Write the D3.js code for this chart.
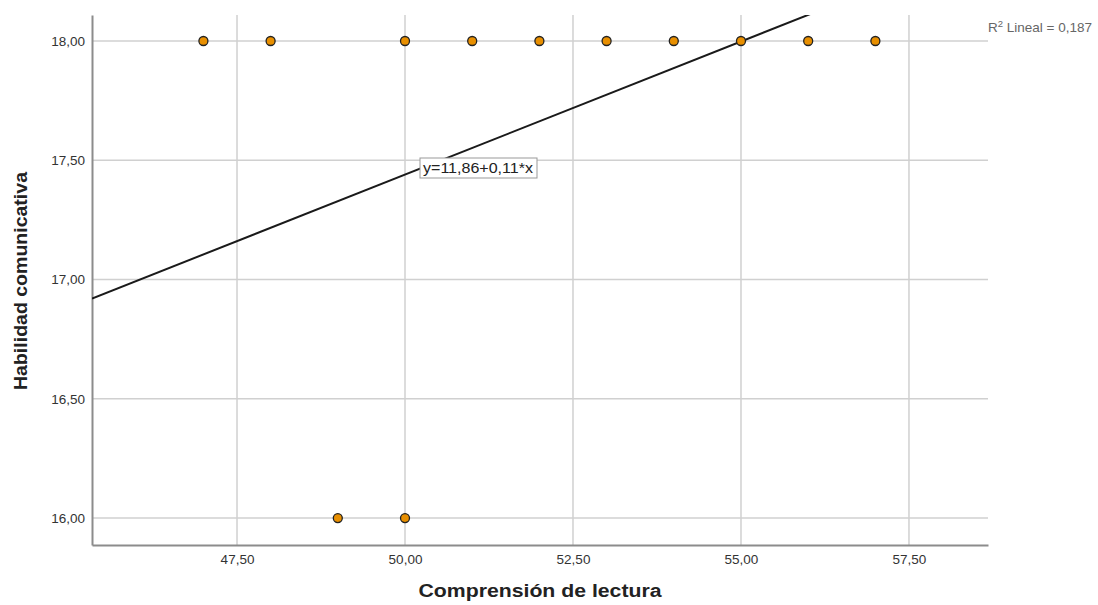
<!DOCTYPE html>
<html><head><meta charset="utf-8">
<script src="https://cdn.jsdelivr.net/npm/d3@7"></script>
<style>body{margin:0;background:#fff;font-family:Arial,"Liberation Sans",sans-serif}</style>
</head><body><svg id="c" width="1098" height="605"></svg>
<script>
const xVals = [47,48,50,51,52,53,54,55,56,57,49,50];
const yVals = [18,18,18,18,18,18,18,18,18,18,16,16];
const xTicks = [47.5,50,52.5,55,57.5];
const yTicks = [16,16.5,17,17.5,18];
const fitIntercept = 11.86, fitSlope = 0.1116;
const eqLabel = "y=11,86+0,11*x";
const r2Label = "0,187";
const xTitle = "Comprensión de lectura", yTitle = "Habilidad comunicativa";

const svg = d3.select("#c");
const L=92,R=988,T=15,B=545;
const x = d3.scaleLinear().domain([45.342,58.676]).range([L,R]);
const y = d3.scaleLinear().domain([15.887,18.109]).range([B,T]);
const fmt = d=>d3.format(".2f")(d).replace(".",",");
const FF = "Arial,'Liberation Sans',sans-serif";

const g = svg.append("g");
g.selectAll(".gx").data(xTicks).enter().append("line")
 .attr("x1",d=>x(d)).attr("x2",d=>x(d)).attr("y1",T).attr("y2",B)
 .attr("stroke","#d0d0d0").attr("stroke-width",1.5);
g.selectAll(".gy").data(yTicks).enter().append("line")
 .attr("x1",L).attr("x2",R).attr("y1",d=>y(d)).attr("y2",d=>y(d))
 .attr("stroke","#d0d0d0").attr("stroke-width",1.5);
const xa = svg.append("g").attr("transform",`translate(0,${B})`)
 .call(d3.axisBottom(x).tickValues(xTicks).tickFormat(fmt).tickSize(0).tickPadding(9));
xa.select(".domain").attr("stroke","#8c8c8c").attr("stroke-width",2);
const ya = svg.append("g").attr("transform",`translate(${L},0)`)
 .call(d3.axisLeft(y).tickValues(yTicks).tickFormat(fmt).tickSize(0).tickPadding(7));
ya.select(".domain").attr("stroke","#8c8c8c").attr("stroke-width",2);
svg.selectAll(".tick text").attr("font-size","13.5px").attr("fill","#333").attr("font-family",FF);

svg.append("clipPath").attr("id","cp").append("rect").attr("x",L).attr("y",T).attr("width",R-L).attr("height",B-T);
const xd = x.domain();
svg.append("line").attr("clip-path","url(#cp)")
 .attr("x1",x(xd[0])).attr("y1",y(fitIntercept+fitSlope*xd[0]))
 .attr("x2",x(xd[1])).attr("y2",y(fitIntercept+fitSlope*xd[1]))
 .attr("stroke","#1a1a1a").attr("stroke-width",2);

svg.selectAll(".pt").data(xVals).enter().append("circle")
 .attr("cx",d=>x(d)).attr("cy",(d,i)=>y(yVals[i])).attr("r",4.5)
 .attr("fill","#e88f00").attr("stroke","#222").attr("stroke-width",1.3);

const eg = svg.append("g");
const et = eg.append("text").attr("x",423).attr("y",173).text(eqLabel)
 .attr("font-size","14px").attr("fill","#222").attr("font-family",FF)
 .attr("textLength",110).attr("lengthAdjust","spacingAndGlyphs");
eg.insert("rect","text").attr("x",420).attr("y",158).attr("width",117).attr("height",20)
 .attr("fill","#fff").attr("stroke","#999").attr("stroke-width",1);

const rt = svg.append("text").attr("x",988).attr("y",32).attr("font-size","13.5px").attr("fill","#666").attr("font-family",FF);
rt.append("tspan").text("R");
rt.append("tspan").text("2").attr("font-size","9.5px").attr("dy",-5);
rt.append("tspan").text(" Lineal = "+r2Label).attr("dy",5);

svg.append("text").attr("x",540).attr("y",597).attr("text-anchor","middle")
 .attr("font-size","18px").attr("font-weight","bold").attr("fill","#222").attr("font-family",FF)
 .attr("textLength",243).attr("lengthAdjust","spacingAndGlyphs").text(xTitle);
svg.append("text").attr("transform",`translate(27,281) rotate(-90)`).attr("text-anchor","middle")
 .attr("font-size","18px").attr("font-weight","bold").attr("fill","#222").attr("font-family",FF)
 .attr("textLength",218).attr("lengthAdjust","spacingAndGlyphs").text(yTitle);
</script></body></html>
